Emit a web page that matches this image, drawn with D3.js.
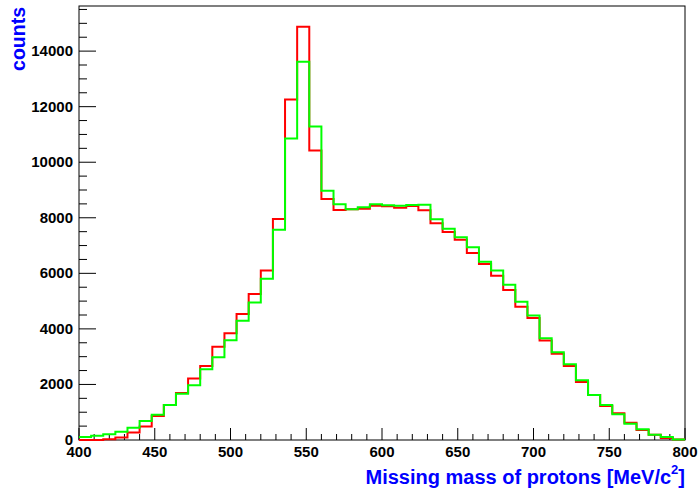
<!DOCTYPE html>
<html>
<head>
<meta charset="utf-8">
<script src="https://cdn.jsdelivr.net/npm/d3@7"></script>
<style>
  body { margin: 0; background: #fff; }
  text { font-family: "Liberation Sans", Arial, sans-serif; font-weight: bold; }
</style>
</head>
<body>
<svg width="698" height="493"></svg>
<script>
// histogram bins: 50 bins of 8 MeV from 400 to 800
var binLow = d3.range(400, 800, 8);

var redCounts = [0, 0, 30, 90, 270, 490, 865, 1260, 1695, 2210,
    2668, 3353, 3847, 4532, 5253, 6104, 7957, 12258, 14880, 10420,
    8678, 8281, 8304, 8329, 8437, 8413, 8365, 8425, 8268, 7800,
    7488, 7211, 6731, 6334, 5913, 5397, 4795, 4388, 3581, 3101,
    2668, 2091, 1622, 1226, 962, 625, 361, 192, 72, 15];

var greenCounts = [110, 150, 210, 300, 440, 680, 912, 1262, 1669, 1972,
    2549, 2982, 3595, 4290, 4950, 5805, 7571, 10853, 13618, 11285,
    8977, 8484, 8304, 8376, 8484, 8448, 8437, 8460, 8473, 7944,
    7607, 7295, 6935, 6418, 6104, 5588, 4975, 4482, 3666, 3161,
    2728, 2151, 1622, 1262, 926, 589, 385, 192, 108, 20];

var xTicks = [400, 450, 500, 550, 600, 650, 700, 750, 800];
var yTicks = [0, 2000, 4000, 6000, 8000, 10000, 12000, 14000];

var padLeft = 79, padRight = 685, padTop = 6, padBottom = 440;

var svg = d3.select('svg');

var xScale = d3.scaleLinear()
    .domain([400, 800])
    .range([padLeft, padRight]);

var yMax = d3.max(redCounts) * 1.05;
var yScale = d3.scaleLinear()
    .domain([0, yMax])
    .range([padBottom, padTop]);

// frame
svg.append("rect")
    .attr("x", padLeft)
    .attr("y", padTop)
    .attr("width", padRight - padLeft)
    .attr("height", padBottom - padTop)
    .attr("fill", "none")
    .attr("stroke", "#000")
    .attr("stroke-width", 1);

// x axis ticks
var xMinor = d3.range(400, 801, 10);
svg.selectAll(".xtick")
    .data(xMinor)
    .enter()
    .append("line")
    .attr("x1", function(d) { return xScale(d); })
    .attr("x2", function(d) { return xScale(d); })
    .attr("y1", padBottom)
    .attr("y2", function(d) { return d % 50 == 0 ? padBottom - 12 : padBottom - 6; })
    .attr("stroke", "#000");

svg.selectAll(".xlab")
    .data(xTicks)
    .enter()
    .append("text")
    .attr("x", function(d) { return xScale(d); })
    .attr("y", 457)
    .attr("text-anchor", "middle")
    .attr("font-size", 15)
    .text(function(d) { return d; });

// y axis ticks
var yMinor = d3.range(0, yMax, 500);
svg.selectAll(".ytick")
    .data(yMinor)
    .enter()
    .append("line")
    .attr("y1", function(d) { return yScale(d); })
    .attr("y2", function(d) { return yScale(d); })
    .attr("x1", padLeft)
    .attr("x2", function(d) { return d % 2000 == 0 ? padLeft + 17 : padLeft + 8; })
    .attr("stroke", "#000");

svg.selectAll(".ylab")
    .data(yTicks)
    .enter()
    .append("text")
    .attr("x", 73)
    .attr("y", function(d) { return yScale(d) + 5; })
    .attr("text-anchor", "end")
    .attr("font-size", 15)
    .text(function(d) { return d; });

// histograms as step outlines
function stepPath(counts) {
    var pts = binLow.map(function(d, i) { return [d, counts[i]]; });
    pts.push([800, counts[counts.length - 1]]);
    return d3.line()
        .x(function(d) { return xScale(d[0]); })
        .y(function(d) { return yScale(d[1]); })
        .curve(d3.curveStepAfter)(pts);
}

svg.append("path")
    .attr("d", stepPath(redCounts))
    .attr("fill", "none")
    .attr("stroke", "#ff0000")
    .attr("stroke-width", 2);

svg.append("path")
    .attr("d", stepPath(greenCounts))
    .attr("fill", "none")
    .attr("stroke", "#00ff00")
    .attr("stroke-width", 2);

// axis titles
var xt = svg.append("text")
    .attr("x", padRight)
    .attr("y", 484)
    .attr("text-anchor", "end")
    .attr("font-size", 20)
    .attr("fill", "#0000ff");
xt.append("tspan").text("Missing mass of protons [MeV/c");
xt.append("tspan").attr("font-size", 13).attr("dy", -10).text("2");
xt.append("tspan").attr("dy", 10).text("]");

svg.append("text")
    .attr("transform", "translate(25," + 7 + ") rotate(-90)")
    .attr("text-anchor", "end")
    .attr("font-size", 19.5)
    .attr("fill", "#0000ff")
    .text("counts");
</script>
</body>
</html>
